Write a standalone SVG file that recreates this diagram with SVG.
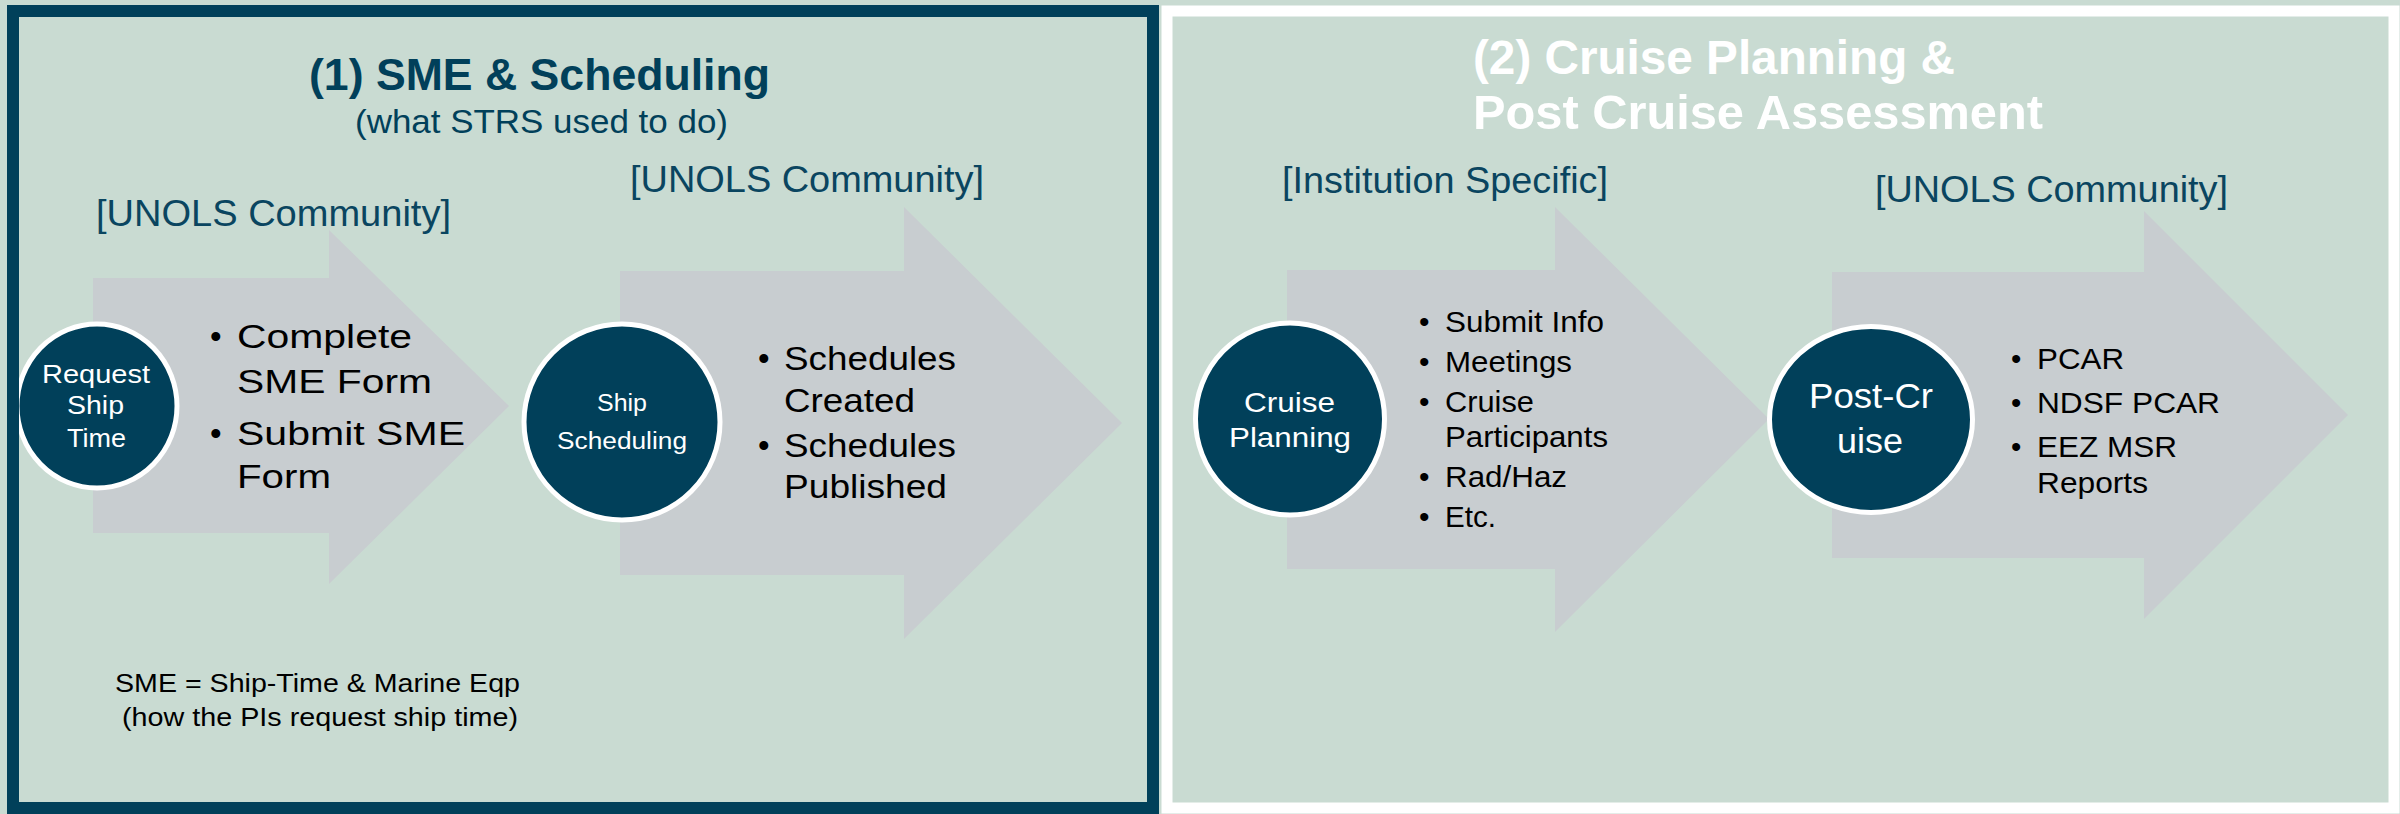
<svg xmlns="http://www.w3.org/2000/svg" width="2400" height="814" viewBox="0 0 2400 814">
<defs>
<style>
text{font-family:"Liberation Sans",Arial,sans-serif;}
.bg{fill:#c9dbd2;}
.arrow{fill:#c8cdd0;}
.node{fill:#01405a;stroke:#ffffff;stroke-width:5;}
.title1{font-weight:bold;font-size:44px;fill:#01405a;}
.sub{font-size:34px;fill:#01405a;}
.label{font-size:36px;fill:#0a4560;}
.title2{font-weight:bold;font-size:48px;fill:#ffffff;}
.ctext{fill:#ffffff;}
.b{fill:#000000;}
</style>
</defs>
<rect class="bg" x="0" y="0" width="2400" height="814"/>

<g id="panel-1">
<rect x="13" y="11" width="1140" height="797" fill="#c9dbd2" stroke="#01405a" stroke-width="12"/>
<text class="title1" x="309" y="90" textLength="461" lengthAdjust="spacingAndGlyphs">(1) SME &amp; Scheduling</text>
<text class="sub" x="355" y="133" textLength="373" lengthAdjust="spacingAndGlyphs">(what STRS used to do)</text>
<text class="label" x="96" y="226" textLength="355" lengthAdjust="spacingAndGlyphs">[UNOLS Community]</text>
<text class="label" x="630" y="192" textLength="354" lengthAdjust="spacingAndGlyphs">[UNOLS Community]</text>
<text class="b" font-size="26" x="115" y="692" textLength="405" lengthAdjust="spacingAndGlyphs">SME = Ship-Time &amp; Marine Eqp</text>
<text class="b" font-size="26" x="122" y="726" textLength="396" lengthAdjust="spacingAndGlyphs">(how the PIs request ship time)</text>
</g>

<g id="panel-2">
<rect x="1167" y="11" width="1227" height="797" fill="#c9dbd2" stroke="#ffffff" stroke-width="11"/>
<text class="title2" x="1473" y="74" textLength="482" lengthAdjust="spacingAndGlyphs">(2) Cruise Planning &amp;</text>
<text class="title2" x="1473" y="129" textLength="570" lengthAdjust="spacingAndGlyphs">Post Cruise Assessment</text>
<text class="label" font-size="37" x="1282" y="193" textLength="326" lengthAdjust="spacingAndGlyphs">[Institution Specific]</text>
<text class="label" font-size="37" x="1875" y="202" textLength="353" lengthAdjust="spacingAndGlyphs">[UNOLS Community]</text>
</g>

<g id="connectors">
<g id="arrow-sme">
<polygon class="arrow" points="93,278 329,278 329,230 509,406 329,584 329,533 93,533"/>
<g class="b" font-size="33">
<text x="210" y="348">•</text>
<text x="237" y="348" textLength="175" lengthAdjust="spacingAndGlyphs">Complete</text>
<text x="237" y="393" textLength="195" lengthAdjust="spacingAndGlyphs">SME Form</text>
<text x="210" y="445">•</text>
<text x="237" y="445" textLength="228" lengthAdjust="spacingAndGlyphs">Submit SME</text>
<text x="237" y="488" textLength="94" lengthAdjust="spacingAndGlyphs">Form</text>
</g>
</g>
<g id="arrow-scheduling">
<polygon class="arrow" points="620,271 904,271 904,207 1122,423 904,639 904,575 620,575"/>
<g class="b" font-size="33">
<text x="758" y="370">•</text>
<text x="784" y="370" textLength="172" lengthAdjust="spacingAndGlyphs">Schedules</text>
<text x="784" y="412" textLength="131" lengthAdjust="spacingAndGlyphs">Created</text>
<text x="758" y="457">•</text>
<text x="784" y="457" textLength="172" lengthAdjust="spacingAndGlyphs">Schedules</text>
<text x="784" y="498" textLength="163" lengthAdjust="spacingAndGlyphs">Published</text>
</g>
</g>
<g id="arrow-cruise">
<polygon class="arrow" points="1287,270 1555,270 1555,207 1769,419 1555,632 1555,569 1287,569"/>
<g class="b" font-size="30">
<text x="1419" y="332">•</text>
<text x="1445" y="332" textLength="159" lengthAdjust="spacingAndGlyphs">Submit Info</text>
<text x="1419" y="372">•</text>
<text x="1445" y="372" textLength="127" lengthAdjust="spacingAndGlyphs">Meetings</text>
<text x="1419" y="412">•</text>
<text x="1445" y="412" textLength="89" lengthAdjust="spacingAndGlyphs">Cruise</text>
<text x="1445" y="447" textLength="163" lengthAdjust="spacingAndGlyphs">Participants</text>
<text x="1419" y="487">•</text>
<text x="1445" y="487" textLength="122" lengthAdjust="spacingAndGlyphs">Rad/Haz</text>
<text x="1419" y="527">•</text>
<text x="1445" y="527" textLength="51" lengthAdjust="spacingAndGlyphs">Etc.</text>
</g>
</g>
<g id="arrow-postcruise">
<polygon class="arrow" points="1832,272 2144,272 2144,211 2348,415 2144,619 2144,558 1832,558"/>
<g class="b" font-size="29.5">
<text x="2011" y="369">•</text>
<text x="2037" y="369" textLength="87" lengthAdjust="spacingAndGlyphs">PCAR</text>
<text x="2011" y="413">•</text>
<text x="2037" y="413" textLength="183" lengthAdjust="spacingAndGlyphs">NDSF PCAR</text>
<text x="2011" y="457">•</text>
<text x="2037" y="457" textLength="140" lengthAdjust="spacingAndGlyphs">EEZ MSR</text>
<text x="2037" y="493" textLength="111" lengthAdjust="spacingAndGlyphs">Reports</text>
</g>
</g>
</g>

<g id="node-request">
<ellipse class="node" cx="97" cy="406" rx="80" ry="82"/>
<g class="ctext" font-size="26">
<text x="42" y="383" textLength="108" lengthAdjust="spacingAndGlyphs">Request</text>
<text x="67" y="414" textLength="57" lengthAdjust="spacingAndGlyphs">Ship</text>
<text x="67" y="447" textLength="59" lengthAdjust="spacingAndGlyphs">Time</text>
</g>
</g>

<g id="node-ship-scheduling">
<circle class="node" cx="622" cy="422" r="98"/>
<g class="ctext" font-size="23">
<text x="597" y="411" textLength="50" lengthAdjust="spacingAndGlyphs">Ship</text>
<text x="557" y="449" textLength="130" lengthAdjust="spacingAndGlyphs">Scheduling</text>
</g>
</g>

<g id="node-cruise-planning">
<ellipse class="node" cx="1290" cy="419" rx="94.5" ry="96"/>
<g class="ctext" font-size="28">
<text x="1244" y="412" textLength="91" lengthAdjust="spacingAndGlyphs">Cruise</text>
<text x="1229" y="447" textLength="122" lengthAdjust="spacingAndGlyphs">Planning</text>
</g>
</g>

<g id="node-post-cruise">
<ellipse class="node" cx="1871" cy="419.5" rx="101.5" ry="93"/>
<g class="ctext" font-size="35">
<text x="1809" y="408" textLength="124" lengthAdjust="spacingAndGlyphs">Post-Cr</text>
<text x="1837" y="453" textLength="66" lengthAdjust="spacingAndGlyphs">uise</text>
</g>
</g>

<rect x="13" y="11" width="1140" height="797" fill="none" stroke="#01405a" stroke-width="12"/>
</svg>
